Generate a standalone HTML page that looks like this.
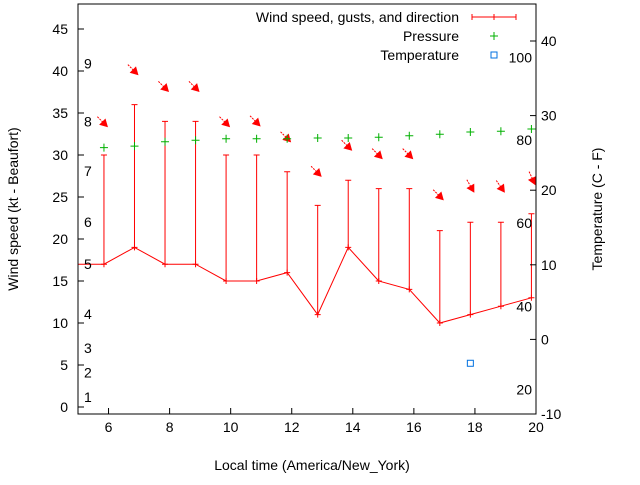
<!DOCTYPE html>
<html><head><meta charset="utf-8"><style>
body{margin:0;background:#fff}
svg text{font-family:"Liberation Sans",sans-serif;font-size:14px;fill:#000}
</style></head><body>
<svg id="c" width="640" height="480" viewBox="0 0 640 480"></svg>
<script>
const times=[4.85,5.85,6.85,7.85,8.85,9.85,10.85,11.85,12.85,13.85,14.85,15.85,16.85,17.85,18.85,19.85];
const wind=[17,17,19,17,17,15,15,16,11,19,15,14,10,11,12,13];
const gusts=[null,30,36,34,34,30,30,28,24,27,26,26,21,22,22,23];
const arrowLevel=[null,33.3,39.5,37.5,37.5,33.3,33.4,31.5,27.4,30.5,29.5,29.5,24.6,25.5,25.5,26.4];
const windDir=[null,315,315,315,315,315,315,315,315,315,315,315,315,330,325,335];
const pressure=[null,25.7,25.9,26.5,26.7,26.9,26.9,26.9,27.0,27.0,27.1,27.3,27.5,27.8,27.9,28.2];
const tempTimes=[17.85];
const temps=[-3.2];
const xTicks=[6,8,10,12,14,16,18,20];
const yTicks=[0,5,10,15,20,25,30,35,40,45];
const y2Ticks=[-10,0,10,20,30,40];
const beaufort=[[1,1.2],[2,4.1],[3,7],[4,11.1],[5,17],[6,22],[7,28.1],[8,34],[9,40.9]];
const fahr=[[20,-6.7],[40,4.4],[60,15.6],[80,26.7],[100,37.8]];

const L=78,R=536,T=4,B=414;
const X=v=>L+(v-5)/15*(R-L);
const Y=v=>407-v*8.4;
const Y2=v=>B-(v+10)*7.46;
const svg=document.getElementById('c');
const NS='http://www.w3.org/2000/svg';
function mk(tag,attrs,parent){const e=document.createElementNS(NS,tag);for(const k in attrs)e.setAttribute(k,attrs[k]);(parent||svg).appendChild(e);return e;}
function txt(x,y,s,anchor,name){const t=mk('text',{x:x,y:y,'text-anchor':anchor||'start'});t.textContent=s;return t;}

const clip=mk('clipPath',{id:'pc'});mk('rect',{x:L,y:T,width:R-L,height:B-T},clip);
const g=mk('g',{'clip-path':'url(#pc)'});



xTicks.forEach(v=>{const t=mk('line',{x1:X(v),x2:X(v),y1:B,y2:B-6,stroke:'#000'});
 txt(X(v),432,String(v),'middle','x-tick-label');});
yTicks.forEach(v=>{const t=mk('line',{x1:L,x2:L+6,y1:Y(v),y2:Y(v),stroke:'#000'});
 txt(68,Y(v)+5,String(v),'end','y-tick-label');});
y2Ticks.forEach(v=>{const t=mk('line',{x1:R,x2:R-6,y1:Y2(v),y2:Y2(v),stroke:'#000'});
 txt(541,Y2(v)+5,String(v),'start','y2-tick-label');});
beaufort.forEach(b=>txt(84,Y(b[1])+5,String(b[0]),'start','beaufort-label'));
fahr.forEach(f=>txt(532,Y2(f[1])+5,String(f[0]),'end','fahrenheit-label'));

times.forEach((t,i)=>{if(gusts[i]==null)return;const x=X(t);
 const e=mk('path',{d:`M${x},${Y(wind[i])}V${Y(gusts[i])}M${x-3},${Y(gusts[i])}h6`,stroke:'#f00',fill:'none'},g);
 });
const wl=mk('polyline',{points:times.map((t,i)=>X(t)+','+Y(wind[i])).join(' '),stroke:'#f00',fill:'none'},g);

times.forEach((t,i)=>{const x=X(t),y=Y(wind[i]);const e=mk('path',{d:`M${x-3},${y}h6M${x},${y-3}v6`,stroke:'#f00'},g);
 });
times.forEach((t,i)=>{if(arrowLevel[i]==null)return;const tx=X(t)+4,ty=Y(arrowLevel[i]);
 const a=(windDir[i]+180)*Math.PI/180;const dx=Math.sin(a),dy=-Math.cos(a);
 const len=15,sx=tx-dx*len,sy=ty-dy*len;
 const ag=mk('g',{},g);
 mk('line',{x1:sx,y1:sy,x2:tx-dx*5,y2:ty-dy*5,stroke:'#f00','stroke-dasharray':'2,1'},ag);
 const px=-dy,py=dx,hb=8,hw=4.5;
 mk('polygon',{points:`${tx},${ty} ${tx-dx*hb+px*hw},${ty-dy*hb+py*hw} ${tx-dx*hb-px*hw},${ty-dy*hb-py*hw}`,fill:'#f00'},ag);});
times.forEach((t,i)=>{if(pressure[i]==null)return;const x=X(t),y=Y2(pressure[i]);
 const e=mk('path',{d:`M${x-4},${y}h8M${x},${y-4}v8`,stroke:'#00b000'},g);});
tempTimes.forEach((t,i)=>{const e=mk('rect',{x:X(t)-3,y:Y2(temps[i])-3,width:6,height:6,fill:'none',stroke:'#0070e0'},g);
 });

const fr=mk('rect',{x:L,y:T,width:R-L,height:B-T,fill:'none',stroke:'#000'});


txt(312,470,'Local time (America/New_York)','middle','x-axis-title');
const yt=txt(0,0,'Wind speed (kt - Beaufort)','middle','y-axis-title');yt.setAttribute('transform','translate(18,209) rotate(-90)');
const y2t=txt(0,0,'Temperature (C - F)','middle','y2-axis-title');y2t.setAttribute('transform','translate(602,209) rotate(-90)');

const lg=mk('g',{});
const l1=txt(459,22,'Wind speed, gusts, and direction','end','legend-wind-label');lg.appendChild(l1);
const s1=mk('path',{d:'M472,17h44M472,14v6M516,14v6M494,14v6',stroke:'#f00'},lg);
const l2=txt(459,41,'Pressure','end','legend-pressure-label');lg.appendChild(l2);
const s2=mk('path',{d:'M490,36h8M494,32v8',stroke:'#00b000'},lg);
const l3=txt(459,60,'Temperature','end','legend-temperature-label');lg.appendChild(l3);
const s3=mk('rect',{x:491,y:52,width:6,height:6,fill:'none',stroke:'#0070e0'},lg);
</script>
</body></html>
